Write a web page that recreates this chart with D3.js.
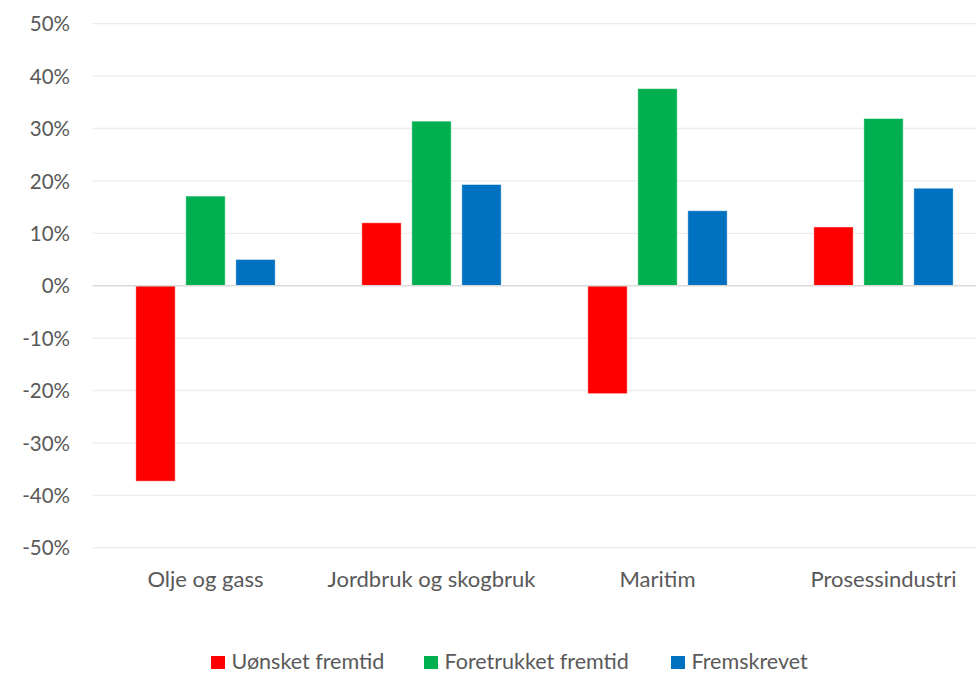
<!DOCTYPE html>
<html>
<head>
<meta charset="utf-8">
<script src="https://cdn.jsdelivr.net/npm/d3@7"></script>
<style>
  html, body { margin: 0; padding: 0; background: #fff; }
  svg text { font-family: Lato, "Open Sans", sans-serif; fill: #595959; }
</style>
</head>
<body>
<svg id="chart" width="976" height="673"></svg>
<script>
// Sectors on the x axis
const categories = ["Olje og gass", "Jordbruk og skogbruk", "Maritim", "Prosessindustri"];
// Scenario series (share, as fraction)
const seriesNames = ["Uønsket fremtid", "Foretrukket fremtid", "Fremskrevet"];
const seriesColors = ["#ff0000", "#00b050", "#0070c0"];
const uonsket = [-0.373, 0.120, -0.206, 0.112];
const foretrukket = [0.171, 0.314, 0.376, 0.319];
const fremskrevet = [0.050, 0.193, 0.143, 0.186];
const yTicks = [-0.5, -0.4, -0.3, -0.2, -0.1, 0, 0.1, 0.2, 0.3, 0.4, 0.5];

const seriesValues = [uonsket, foretrukket, fremskrevet];
const data = categories.map((c, i) => ({
  category: c,
  values: seriesNames.map((s, j) => ({ series: s, value: seriesValues[j][i], color: seriesColors[j] }))
}));

const svg = d3.select("#chart");
const plot = { left: 92.5, right: 996.5, top: 23.7, bottom: 547.7 };

const y = d3.scaleLinear().domain([-0.5, 0.5]).range([plot.bottom, plot.top]);
const x0 = d3.scaleBand().domain(categories).range([plot.left, plot.right]).padding(0);
const groupPad = 43.35;
const x1 = d3.scaleBand().domain(seriesNames)
  .range([groupPad, x0.bandwidth() - groupPad])
  .paddingInner(0.214).paddingOuter(0);

// Gridlines
svg.append("g").selectAll("line")
  .data(yTicks.filter(t => t !== 0))
  .join("line")
  .attr("x1", plot.left).attr("x2", plot.right)
  .attr("y1", d => y(d)).attr("y2", d => y(d))
  .attr("stroke", "#ececec").attr("stroke-width", 1.3);

// Y axis labels
const yAxis = d3.axisLeft(y).tickValues(yTicks).tickFormat(d3.format(".0%")).tickSize(0).tickPadding(0);
const yg = svg.append("g").attr("transform", `translate(70,0)`).call(yAxis);
yg.select(".domain").remove();
yg.selectAll("text").attr("font-size", 20.5).attr("fill", "#595959")
  .style("font-family", "Lato, 'Open Sans', sans-serif")
  .attr("dy", "0.35em")
  .text(d => d3.format(".0%")(d).replace("−", "-"));

// Bars
const groups = svg.append("g").selectAll("g")
  .data(data).join("g")
  .attr("transform", d => `translate(${x0(d.category)},0)`);
groups.selectAll("rect")
  .data(d => d.values).join("rect")
  .attr("x", d => x1(d.series))
  .attr("width", x1.bandwidth())
  .attr("y", d => y(Math.max(0, d.value)))
  .attr("height", d => Math.abs(y(d.value) - y(0)))
  .attr("fill", d => d.color)
  .attr("stroke", "#ffffff").attr("stroke-opacity", 0.5).attr("stroke-width", 0.8);

// Zero line
svg.append("line")
  .attr("x1", plot.left).attr("x2", plot.right)
  .attr("y1", y(0)).attr("y2", y(0))
  .attr("stroke", "#d9d9d9").attr("stroke-width", 1.5);

// Category labels
svg.append("g").selectAll("text")
  .data(categories).join("text")
  .attr("x", d => x0(d) + x0.bandwidth() / 2)
  .attr("y", 587)
  .attr("text-anchor", "middle")
  .attr("font-size", 22)
  .text(d => d);

// Legend
const legendX = [211, 424, 671];
const legend = svg.append("g").selectAll("g")
  .data(seriesNames).join("g")
  .attr("transform", (d, i) => `translate(${legendX[i]},0)`);
legend.append("rect")
  .attr("x", 0).attr("y", 656)
  .attr("width", 14).attr("height", 13)
  .attr("fill", (d, i) => seriesColors[i]);
legend.append("text")
  .attr("x", 20.5).attr("y", 668.5)
  .attr("font-size", 21.5)
  .text(d => d);
</script>
</body>
</html>
